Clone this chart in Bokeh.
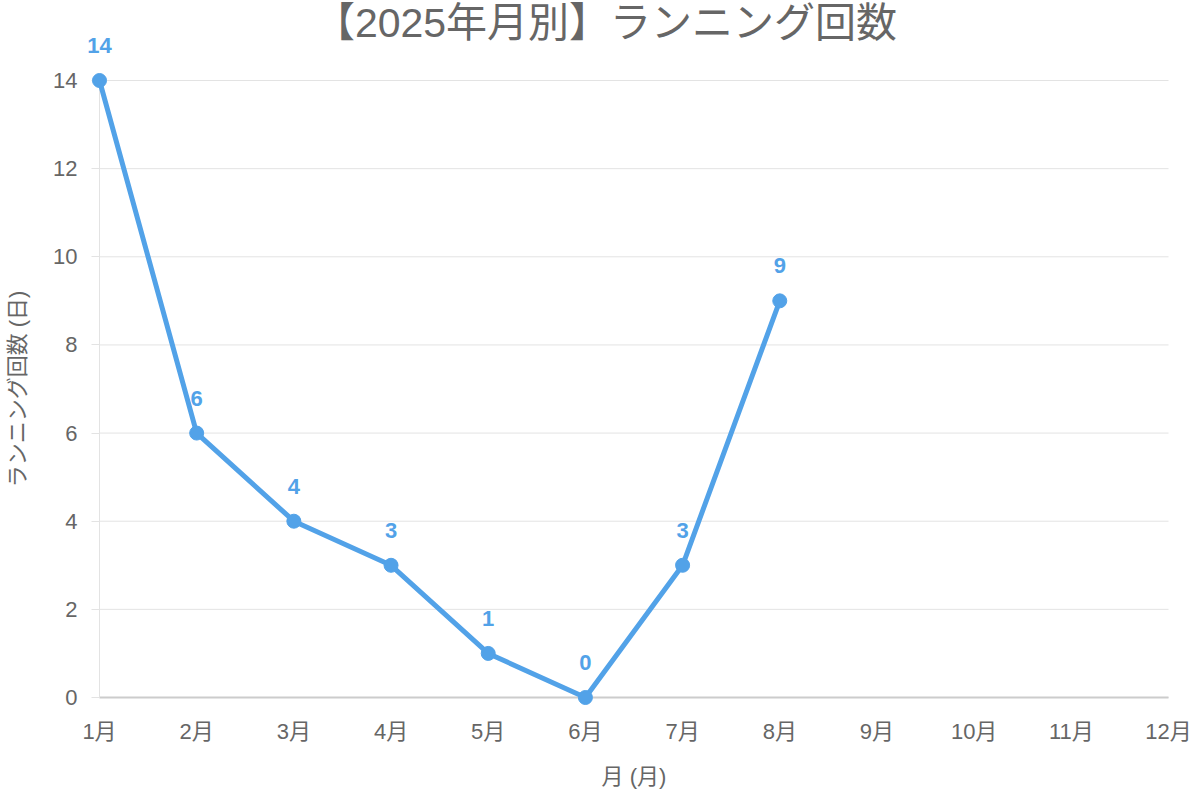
from bokeh.plotting import figure
from bokeh.models import Range1d, FixedTicker, ColumnDataSource, LabelSet, Label
from bokeh.core.properties import value
from bokeh.embed import file_html
from bokeh.resources import INLINE

title_text = "【2025年月別】ランニング回数"
months = ["1月", "2月", "3月", "4月", "5月", "6月", "7月", "8月", "9月", "10月", "11月", "12月"]
month_nums = [1, 2, 3, 4, 5, 6, 7, 8, 9, 10, 11, 12]
run_counts = [14, 6, 4, 3, 1, 0, 3, 9]
y_ticks = [0, 2, 4, 6, 8, 10, 12, 14]

FONT = "'Liberation Sans', 'Noto Sans CJK JP', sans-serif"
BLUE = "#52A2E8"
GREY = "#666666"
GRID = "#e3e3e3"

W, H = 1192, 792
# pixel geometry of the plotting area (month 1 .. 12, value 0 .. 14)
PX_LEFT, PX_RIGHT, PX_TOP, PX_BOTTOM = 99, 1168, 80, 697
ux = (PX_RIGHT - PX_LEFT) / (month_nums[-1] - month_nums[0])
uy = (PX_BOTTOM - PX_TOP) / (y_ticks[-1] - y_ticks[0])
x_range = Range1d(month_nums[0] - PX_LEFT / ux, month_nums[0] + (W - PX_LEFT) / ux)
y_range = Range1d(y_ticks[0] - (H - PX_BOTTOM) / uy, y_ticks[0] + PX_BOTTOM / uy)

src = ColumnDataSource(dict(
    x=month_nums[:len(run_counts)],
    y=run_counts,
    lbl=[str(v) for v in run_counts],
))

p = figure(width=W, height=H, output_backend="svg", toolbar_location=None,
           x_range=x_range, y_range=y_range,
           min_border_left=0, min_border_right=0, min_border_top=0, min_border_bottom=0)
p.outline_line_color = None
p.background_fill_color = "white"
p.border_fill_color = "white"
p.xgrid.visible = False
p.ygrid.visible = False

# horizontal grid lines across the month span
n = len(y_ticks)
p.segment(x0=[month_nums[0]] * n, y0=y_ticks, x1=[month_nums[-1]] * n, y1=y_ticks,
          line_color=GRID, line_width=1, level="underlay")

p.xaxis.fixed_location = y_ticks[0]
p.xaxis.bounds = (month_nums[0], month_nums[-1])
p.xaxis.ticker = FixedTicker(ticks=month_nums)
p.xaxis.major_label_overrides = {n_: m for n_, m in zip(month_nums, months)}
p.xaxis.minor_tick_line_color = None
p.xaxis.major_tick_line_color = None
p.xaxis.major_tick_out = 0
p.xaxis.major_tick_in = 0
p.xaxis.major_label_standoff = 21
p.xaxis.axis_line_color = "#cccccc"
p.xaxis.axis_line_width = 2
p.xaxis.axis_label = "月 (月)"
p.xaxis.axis_label_standoff = 17

p.yaxis.fixed_location = month_nums[0]
p.yaxis.bounds = (y_ticks[0], y_ticks[-1])
p.yaxis.ticker = FixedTicker(ticks=y_ticks)
p.yaxis.minor_tick_line_color = None
p.yaxis.major_tick_line_color = GRID
p.yaxis.major_tick_out = 8
p.yaxis.major_tick_in = 0
p.yaxis.major_label_standoff = 14
p.yaxis.axis_line_color = GRID
p.yaxis.axis_label = "ランニング回数 (日)"
p.yaxis.axis_label_standoff = 20

for ax in (p.xaxis, p.yaxis):
    ax.major_label_text_font = FONT
    ax.major_label_text_font_size = "22px"
    ax.major_label_text_color = GREY
    ax.axis_label_text_font = FONT
    ax.axis_label_text_font_size = "22px"
    ax.axis_label_text_font_style = "normal"
    ax.axis_label_text_color = GREY

p.line("x", "y", source=src, line_color=BLUE, line_width=5, line_join="round",
       level="overlay")
p.scatter("x", "y", source=src, size=14, fill_color=BLUE, line_color=BLUE,
          level="overlay")

labels = LabelSet(x="x", y="y", text="lbl", source=src, y_offset=35,
                  text_align="center", text_baseline="middle",
                  text_font=value(FONT), text_font_size=value("22px"),
                  text_font_style="bold", text_color=BLUE)
p.add_layout(labels)

title = Label(x=605, y=H - 22, x_units="screen", y_units="screen", text=title_text,
              text_align="center", text_baseline="middle",
              text_font=FONT, text_font_size="41px", text_color=GREY)
p.add_layout(title)

open("out.html", "w").write(file_html(p, INLINE))
